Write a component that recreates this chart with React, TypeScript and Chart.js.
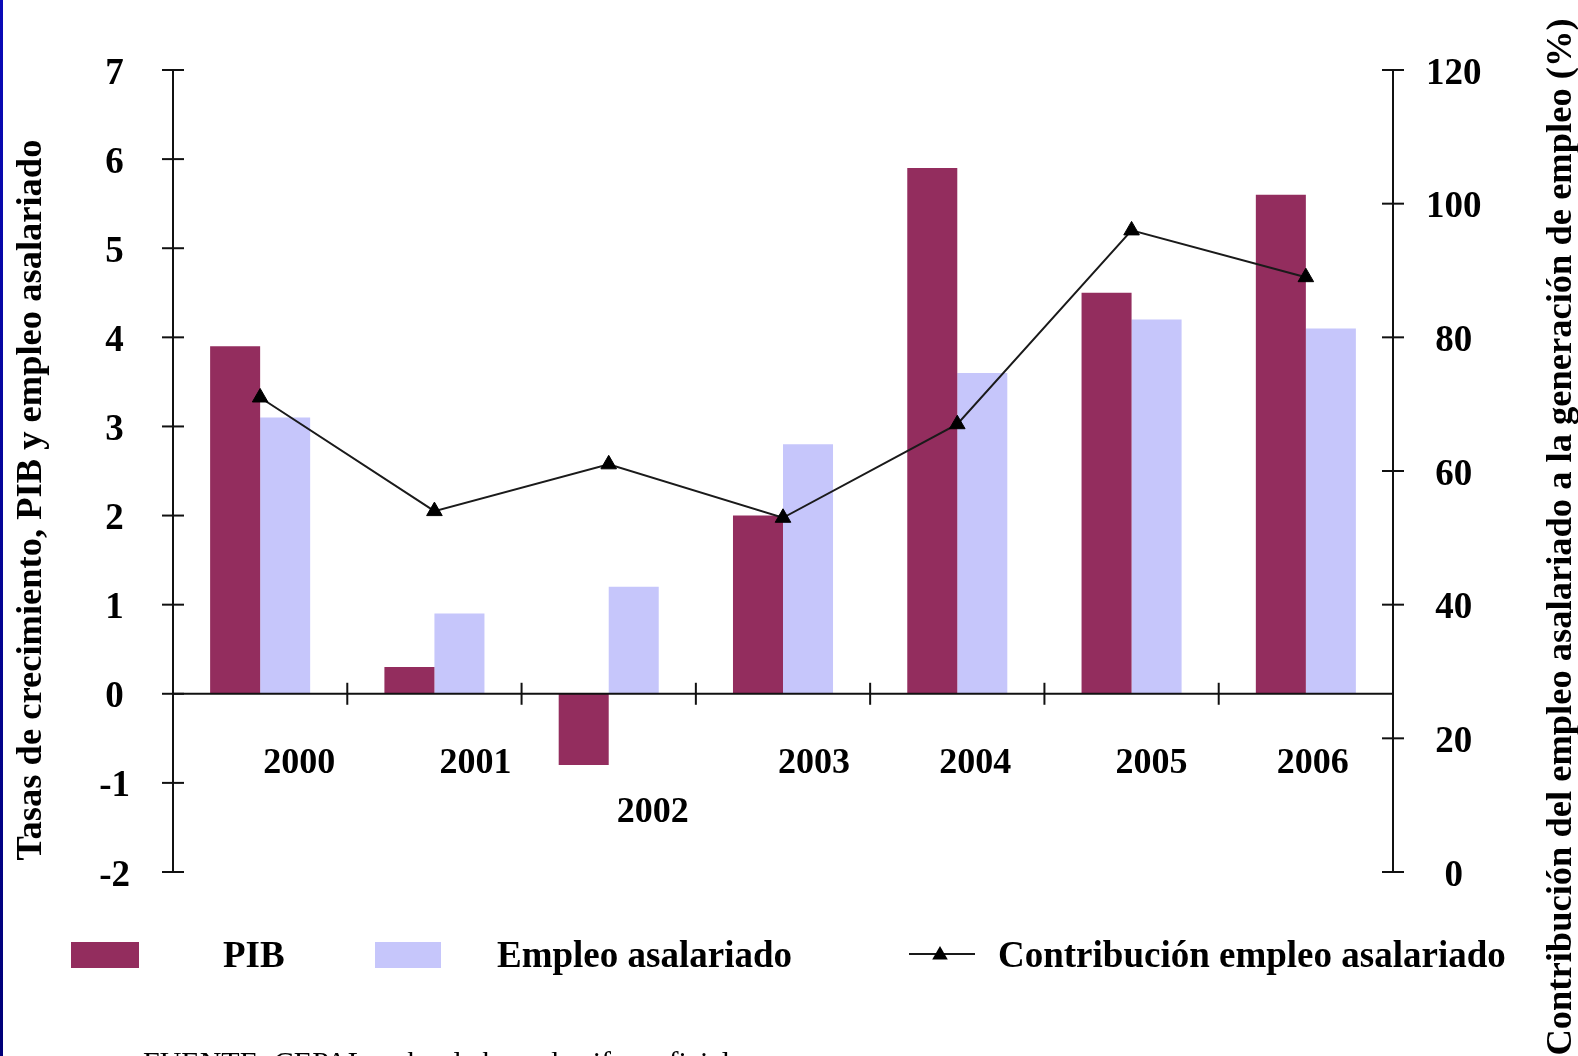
import React, { useEffect, useRef } from 'react';
import { Chart, registerables } from 'chart.js';

Chart.register(...registerables);

// ---- data ----
const categories = ['2000', '2001', '2002', '2003', '2004', '2005', '2006'];
const pib = [3.9, 0.3, -0.8, 2.0, 5.9, 4.5, 5.6];
const empleo = [3.1, 0.9, 1.2, 2.8, 3.6, 4.2, 4.1];
const contribucion = [71, 54, 61, 53, 67, 96, 89];

const seriesLabels = ['PIB', 'Empleo asalariado', 'Contribución empleo asalariado'];
const leftTitle = 'Tasas de crecimiento, PIB y empleo asalariado';
const rightTitle = 'Contribución del empleo asalariado a la generación de empleo (%)';
const sourceNote = 'FUENTE: CEPAL, sobre la base de cifras oficiales.';

// ---- styles ----
const W = 1578;
const H = 1056;
const SERIF = "'Liberation Serif', 'Times New Roman', serif";
const BOLD36 = `bold 36px ${SERIF}`;
const LEGEND_FONT = `bold 37px ${SERIF}`;
const COLOR_PIB = '#932D5E';
const COLOR_EMP = '#C6C6FB';
const INK = '#111111';
const LABEL_NUDGE = [39, 41, 44, 31, 18, 20, 7];

const decorPlugin = {
  id: 'decor',
  afterDatasetsDraw(chart: any) {
    const ctx = chart.ctx;
    const { left, right, top, bottom } = chart.chartArea;
    const ys = chart.scales.y;
    const yr = chart.scales.y1;
    const xs = chart.scales.x;
    const z = ys.getPixelForValue(0);
    const seg = (x1: number, y1: number, x2: number, y2: number) => {
      ctx.beginPath();
      ctx.moveTo(x1, y1);
      ctx.lineTo(x2, y2);
      ctx.stroke();
    };
    ctx.save();
    ctx.strokeStyle = INK;
    ctx.lineWidth = 2;
    seg(left, top, left, bottom);
    seg(right, top, right, bottom);
    seg(left, z, right, z);
    ys.ticks.forEach((t: any) => {
      const p = ys.getPixelForValue(t.value);
      seg(left - 11, p, left + 11, p);
    });
    yr.ticks.forEach((t: any) => {
      const p = yr.getPixelForValue(t.value);
      seg(right - 11, p, right + 11, p);
    });
    for (let i = 1; i < categories.length; i++) {
      const p = (xs.getPixelForValue(i - 1) + xs.getPixelForValue(i)) / 2;
      seg(p, z - 11, p, z + 11);
    }
    ctx.restore();
  },
  afterDraw(chart: any) {
    const ctx = chart.ctx;
    const ys = chart.scales.y;
    const xs = chart.scales.x;
    const z = ys.getPixelForValue(0);
    ctx.save();
    ctx.fillStyle = '#000';

    // category labels
    ctx.font = BOLD36;
    ctx.textAlign = 'center';
    ctx.textBaseline = 'middle';
    categories.forEach((c, i) => {
      const x = xs.getPixelForValue(i) + LABEL_NUDGE[i];
      const y = pib[i] < 0 ? z + 119 : z + 70;
      ctx.fillText(c, x, y);
    });

    // axis titles (rotated, reading bottom to top)
    ctx.font = `bold 36.5px ${SERIF}`;
    ctx.textBaseline = 'alphabetic';
    ctx.save();
    ctx.translate(41, 500);
    ctx.rotate(-Math.PI / 2);
    ctx.textAlign = 'center';
    ctx.fillText(leftTitle, 0, 0);
    ctx.restore();
    ctx.save();
    ctx.translate(1571, 537);
    ctx.rotate(-Math.PI / 2);
    ctx.textAlign = 'center';
    ctx.fillText(rightTitle, 0, 0);
    ctx.restore();

    // legend
    const ds = chart.data.datasets;
    ctx.font = LEGEND_FONT;
    ctx.textAlign = 'left';
    ctx.textBaseline = 'alphabetic';
    ctx.fillStyle = ds[0].backgroundColor;
    ctx.fillRect(71, 942, 68, 26);
    ctx.fillStyle = '#000';
    ctx.fillText(ds[0].label, 223, 967);
    ctx.fillStyle = ds[1].backgroundColor;
    ctx.fillRect(375, 942, 66, 26);
    ctx.fillStyle = '#000';
    ctx.fillText(ds[1].label, 497, 967);
    ctx.strokeStyle = ds[2].borderColor;
    ctx.lineWidth = 2;
    ctx.beginPath();
    ctx.moveTo(909, 954);
    ctx.lineTo(975, 954);
    ctx.stroke();
    const r = 9;
    const cx = 940;
    const cy = 955;
    ctx.beginPath();
    ctx.moveTo(cx, cy - r);
    ctx.lineTo(cx + r * Math.sin((2 * Math.PI) / 3), cy - r * Math.cos((2 * Math.PI) / 3));
    ctx.lineTo(cx + r * Math.sin((4 * Math.PI) / 3), cy - r * Math.cos((4 * Math.PI) / 3));
    ctx.closePath();
    ctx.fillStyle = '#000';
    ctx.fill();
    ctx.fillText(ds[2].label, 998, 967);

    // source note
    ctx.font = `30px ${SERIF}`;
    ctx.fillText(sourceNote, 143, 1072);
    ctx.restore();
  },
};

export default function App() {
  const ref = useRef<HTMLCanvasElement | null>(null);

  useEffect(() => {
    if (!ref.current) return;
    const tickFont = { family: SERIF, size: 37, weight: 'bold' as const };
    const chart = new Chart(ref.current, {
      type: 'bar',
      data: {
        labels: categories,
        datasets: [
          {
            label: seriesLabels[0],
            data: pib,
            backgroundColor: COLOR_PIB,
            yAxisID: 'y',
            order: 2,
            barPercentage: 1,
            categoryPercentage: 0.574,
          },
          {
            label: seriesLabels[1],
            data: empleo,
            backgroundColor: COLOR_EMP,
            yAxisID: 'y',
            order: 2,
            barPercentage: 1,
            categoryPercentage: 0.574,
          },
          {
            type: 'line',
            label: seriesLabels[2],
            data: contribucion,
            yAxisID: 'y1',
            borderColor: '#1a1a1a',
            backgroundColor: '#000',
            borderWidth: 2,
            tension: 0,
            fill: false,
            pointStyle: 'triangle',
            pointRadius: 9,
            pointBackgroundColor: '#000',
            pointBorderColor: '#000',
            pointBorderWidth: 1,
            order: 0,
          } as any,
        ],
      },
      options: {
        responsive: false,
        animation: false,
        devicePixelRatio: 1,
        layout: { padding: { top: 70, bottom: 184, left: 0, right: 0 } },
        plugins: {
          legend: { display: false },
          tooltip: { enabled: false },
          title: { display: false },
        },
        scales: {
          x: {
            type: 'category',
            offset: true,
            position: { y: 0 } as any,
            grid: { display: false },
            border: { display: false },
            ticks: { display: false },
          },
          y: {
            position: 'left',
            min: -2,
            max: 7,
            ticks: {
              stepSize: 1,
              color: '#000',
              font: tickFont,
              crossAlign: 'center',
              padding: 35,
              labelOffset: 4,
            },
            grid: { display: false },
            border: { display: false },
            afterFit: (s: any) => {
              s.width = 173;
            },
          },
          y1: {
            position: 'right',
            min: 0,
            max: 120,
            ticks: {
              stepSize: 20,
              color: '#000',
              font: tickFont,
              crossAlign: 'center',
              padding: 25,
              labelOffset: 4,
            },
            grid: { display: false },
            border: { display: false },
            afterFit: (s: any) => {
              s.width = 185;
            },
          },
        },
      },
      plugins: [decorPlugin],
    });
    return () => chart.destroy();
  }, []);

  return (
    <div
      style={{
        position: 'absolute',
        left: 0,
        top: 0,
        width: W,
        height: H,
        background: '#ffffff',
        overflow: 'hidden',
      }}
    >
      <canvas ref={ref} width={W} height={H} style={{ display: 'block', width: W, height: H }} />
      <div
        style={{
          position: 'absolute',
          left: 0,
          top: 0,
          width: 3,
          height: H,
          background: 'linear-gradient(#0a0ab8, #000078)',
        }}
      />
    </div>
  );
}
